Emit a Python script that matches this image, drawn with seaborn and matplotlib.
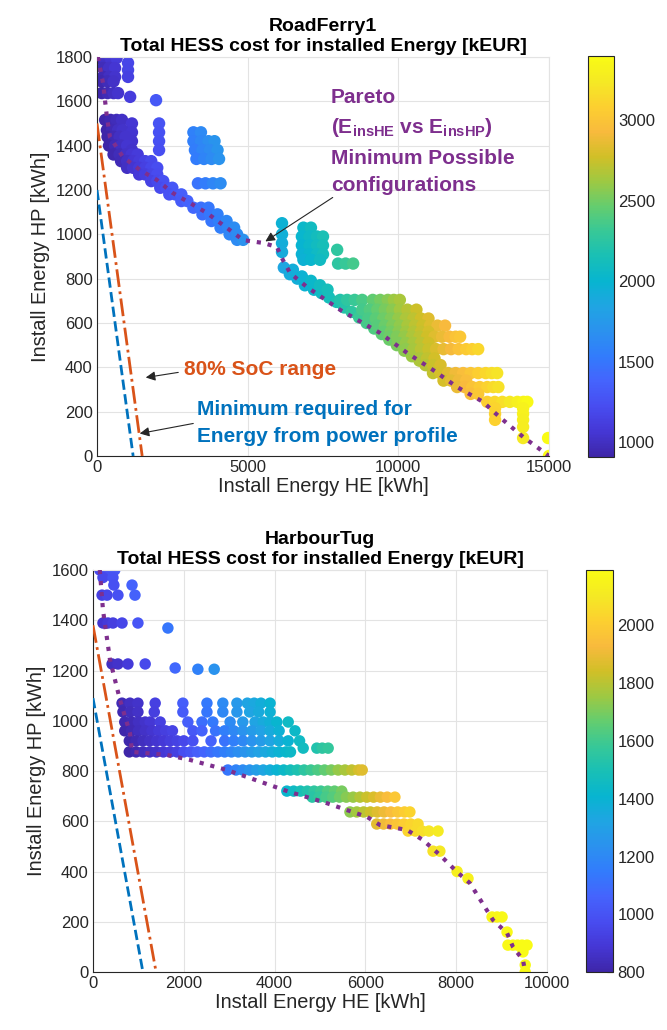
import matplotlib
matplotlib.use("Agg")
import matplotlib.pyplot as plt
import seaborn as sns
import pandas as pd
from matplotlib.colors import LinearSegmentedColormap, Normalize
from matplotlib.cm import ScalarMappable

# ---------------- RoadFerry1 data ----------------
rf_row_hp = [1795, 1773, 1750, 1741, 1710, 1690, 1637, 1620, 1605, 1516, 1500, 1470, 1460,
             1440, 1420, 1400, 1380, 1360, 1330, 1300, 1270, 1240, 1210, 1180, 1150, 1120,
             1090, 1060, 1030, 1000, 975,
             1460, 1420, 1380, 1340, 1230,
             1050, 1000, 960, 920,
             1030, 990, 950, 910, 885, 930, 868,
             850, 820, 800, 770, 750, 735, 715, 695, 670, 650, 625, 600, 575, 550, 525, 500,
             475, 450, 430, 410, 390, 840, 810, 790, 770, 750,
             704, 660, 620, 588, 560, 538, 510, 482, 440, 410, 374, 340, 311, 280, 244,
             215, 190, 163, 131, 81, 0]
rf_row_he = [[30, 250, 450, 650], [1030], [200, 400, 600], [1030], [200, 400, 600, 1030],
             [150, 350, 550], [160, 350, 550, 700], [1100], [1960], [270, 450, 650, 830],
             [1160, 2060], [330, 500, 700, 850], [1160, 2060], [350, 550, 750, 950],
             [1160, 2060], [400, 600, 800, 1000], [1160, 2060], [550, 750, 950, 1150, 1350],
             [800, 1000, 1200, 1400, 1600, 1800], [1000, 1200, 1400, 1600, 1800, 2000],
             [1400, 1600, 1800, 2000], [1800, 2000, 2200], [2100, 2300, 2500],
             [2400, 2600, 2800], [2800, 3000], [3200, 3450, 3700], [3500, 3750, 4000],
             [3800, 4050, 4300], [4100, 4350, 4550], [4400, 4650], [4650, 4850],
             [3200, 3450], [3200, 3450, 3700, 3900], [3250, 3500, 3750, 4000],
             [3300, 3550, 3800, 4050], [3350, 3600, 3850, 4100],
             [6140], [6140], [6140], [6140],
             [6850, 7100], [6800, 7050, 7300, 7500], [6800, 7050, 7300, 7500],
             [6800, 7050, 7300, 7500], [6850, 7100, 7400], [7970], [8000, 8250, 8500],
             [6200], [6400], [6650], [6900], [7200], [7450], [7700], [7950], [8200], [8450],
             [8700], [8950], [9200], [9450], [9700], [9950], [10200], [10450], [10700],
             [10950], [11200], [6500], [6800], [7100], [7400], [7650],
             [8070, 8300, 8550, 8800, 9150, 9400, 9650, 9850, 10050],
             [8800, 9050, 9300, 9550, 9800, 10050, 10300, 10600],
             [9000, 9250, 9500, 9750, 10000, 10250, 10500, 10750, 11000],
             [9300, 9550, 9800, 10050, 10300, 10550, 10800, 11050, 11300, 11550],
             [9500, 9750, 10000, 10250, 10500, 10750, 11000],
             [9700, 9950, 10200, 10450, 10700, 10950, 11200, 11450, 11700, 11900, 12050],
             [10000, 10250, 10500, 10750, 11000],
             [10250, 10500, 10750, 11000, 11250, 11500, 11750, 12000, 12250, 12450, 12650],
             [10700, 10950, 11200], [10900, 11150, 11400],
             [11150, 11400, 11650, 11900, 12150, 12400, 12650, 12900, 13100, 13280],
             [11500, 11750, 12000, 12250],
             [11950, 12200, 12450, 12700, 12950, 13150, 13320], [12400, 12650],
             [12950, 13200, 13450, 13700, 13950, 14150, 14280],
             [13210, 14140], [13210, 14140], [13210, 14140], [14140], [14140, 14970], [15000]]
rf_row_cost = [[955, 1005, 1050, 1100], [1170], [970, 1020, 1060], [1160], [950, 1000, 1040, 1140],
               [930, 975, 1020], [920, 960, 1000, 1040], [1110], [1300], [915, 940, 975, 1010],
               [1060, 1260], [915, 950, 995, 1025], [1050, 1250], [910, 950, 995, 1040],
               [1040, 1240], [915, 960, 1000, 1050], [1030, 1230], [930, 970, 1015, 1060, 1100],
               [965, 1010, 1055, 1100, 1145, 1190], [1000, 1045, 1090, 1135, 1180, 1225],
               [1075, 1120, 1165, 1210], [1150, 1195, 1240], [1200, 1245, 1290],
               [1250, 1295, 1340], [1325, 1370], [1400, 1455, 1510], [1450, 1505, 1560],
               [1500, 1555, 1610], [1550, 1605, 1650], [1600, 1655], [1640, 1690],
               [1570, 1630], [1550, 1610, 1660, 1710], [1540, 1600, 1650, 1710],
               [1530, 1590, 1640, 1700], [1480, 1540, 1600, 1650],
               [1960], [1940], [1920], [1900],
               [2040, 2090], [2010, 2060, 2110, 2160], [1990, 2040, 2090, 2140],
               [1970, 2020, 2070, 2120], [1960, 2010, 2080], [2260], [2250, 2300, 2350],
               [1860], [1890], [1930], [1970], [2030], [2080], [2130], [2170], [2220], [2260],
               [2310], [2350], [2390], [2440], [2480], [2520], [2570], [2610], [2660],
               [2700], [2750], [1920], [1970], [2030], [2090], [2130],
               [2210, 2260, 2310, 2370, 2450, 2510, 2560, 2610, 2650],
               [2350, 2400, 2460, 2520, 2570, 2630, 2690, 2760],
               [2370, 2430, 2490, 2540, 2600, 2660, 2710, 2770, 2830],
               [2420, 2480, 2540, 2590, 2650, 2710, 2760, 2820, 2880, 2930],
               [2450, 2510, 2570, 2620, 2680, 2740, 2790],
               [2490, 2540, 2600, 2660, 2710, 2770, 2830, 2880, 2940, 2990, 3020],
               [2540, 2600, 2650, 2710, 2770],
               [2580, 2640, 2700, 2750, 2810, 2870, 2920, 2980, 3040, 3080, 3130],
               [2660, 2720, 2780], [2690, 2750, 2800],
               [2730, 2790, 2840, 2900, 2960, 3010, 3070, 3130, 3170, 3210],
               [2790, 2850, 2900, 2960],
               [2880, 2930, 2990, 3050, 3100, 3150, 3190], [2960, 3020],
               [3070, 3130, 3180, 3240, 3300, 3340, 3370],
               [3110, 3320], [3100, 3310], [3090, 3290], [3280], [3250, 3390], [3398]]
rf_pareto_he = [30, 200, 330, 430, 860, 1430, 1990, 2520, 3090, 3650, 4850, 5510, 5970,
                6170, 6410, 6970, 8070, 9390, 10290, 11150, 11950, 12810, 13210, 13480,
                14140, 15000]
rf_pareto_hp = [1800, 1683, 1529, 1439, 1349, 1290, 1245, 1186, 1141, 1096, 974, 961, 943,
                884, 825, 762, 659, 555, 465, 388, 311, 244, 194, 162, 86, 0]
rf_soc_he, rf_soc_hp = [0, 1500], [1500, 0]
rf_min_he, rf_min_hp = [0, 1200], [1200, 0]
rf_clim = [907, 3398]
rf_xticks = [0, 5000, 10000, 15000]
rf_yticks = [0, 200, 400, 600, 800, 1000, 1200, 1400, 1600, 1800]
rf_cticks = [1000, 1500, 2000, 2500, 3000]

# ---------------- HarbourTug data ----------------
ht_row_hp = [1600, 1570, 1540, 1500, 1389, 1369, 1226, 1210, 1205, 1070, 1035, 995, 960, 920,
             891, 876, 804, 720, 696, 637, 589, 561, 481, 400, 372, 219, 159, 107, 80, 28, 0]
ht_row_he = [[150, 250, 350, 480], [220, 440], [460, 860], [200, 310, 550, 925],
             [220, 330, 440, 640, 990], [1650], [420, 550, 770, 1150], [1810], [2310, 2670],
             [640, 815, 990, 1370, 1980, 2510, 2860, 3170, 3400, 3550, 3700, 3900],
             [660, 815, 990, 1350, 1980, 2510, 2860, 3170, 3450, 3650, 3900],
             [700, 850, 1000, 1150, 1260, 1480, 2090, 2400, 2640, 3020, 3300, 3570, 3750,
              3900, 4050, 4300],
             [700, 850, 1000, 1150, 1300, 1450, 1600, 1750, 2200, 2400, 2700, 2900, 3100,
              3300, 3500, 3700, 3900, 4100, 4450],
             [800, 950, 1100, 1250, 1400, 1550, 1700, 1850, 2000, 2200, 2600, 2900, 3100,
              3300, 3500, 3700, 3900, 4100, 4300, 4550],
             [4630, 4930, 5050, 5180],
             [800, 950, 1100, 1250, 1400, 1550, 1700, 1850, 2000, 2150, 2300, 2450, 2600,
              2750, 2900, 3050, 3200, 3350, 3500, 3650, 3800, 3950, 4100, 4250, 4350],
             [2970, 3150, 3300, 3450, 3600, 3750, 3900, 4050, 4200, 4350, 4500, 4650, 4800,
              4950, 5100, 5250, 5400, 5550, 5700, 5850, 5930],
             [4270, 4420, 4570, 4720, 4870, 5020, 5170, 5320, 5480],
             [4830, 4980, 5130, 5280, 5430, 5580, 5730, 5880, 6030, 6180, 6330, 6480, 6650],
             [5660, 5810, 5960, 6110, 6260, 6410, 6560, 6710, 6860, 6980],
             [6250, 6400, 6550, 6700, 6850, 7000, 7160],
             [6940, 7100, 7250, 7400, 7600], [7490, 7640], [8020], [8260],
             [8790, 8900, 9010], [9120], [9140, 9250, 9350, 9450, 9560], [9470], [9520], [9520]]
ht_row_cost = [[960, 980, 1000, 1020], [960, 1000], [990, 1060], [930, 950, 990, 1050],
               [880, 900, 920, 950, 1010], [1130], [850, 870, 900, 960], [1080], [1170, 1240],
               [830, 850, 870, 930, 1040, 1140, 1210, 1270, 1320, 1340, 1370, 1400],
               [820, 840, 860, 920, 1030, 1130, 1200, 1260, 1320, 1350, 1390],
               [820, 830, 850, 870, 890, 930, 1040, 1100, 1140, 1210, 1270, 1320, 1350,
                1380, 1410, 1450],
               [810, 825, 845, 860, 880, 900, 920, 940, 1020, 1060, 1120, 1160, 1200,
                1240, 1280, 1310, 1350, 1390, 1440],
               [810, 825, 845, 860, 880, 895, 915, 935, 955, 990, 1060, 1120, 1160,
                1200, 1240, 1280, 1320, 1360, 1400, 1450],
               [1460, 1520, 1550, 1570],
               [805, 820, 840, 855, 870, 890, 905, 925, 980, 1010, 1040, 1070, 1100,
                1130, 1160, 1190, 1220, 1250, 1280, 1310, 1340, 1370, 1395, 1420, 1440],
               [1130, 1175, 1210, 1250, 1290, 1325, 1360, 1400, 1440, 1475, 1510, 1550, 1590,
                1625, 1660, 1700, 1740, 1775, 1810, 1850, 1870],
               [1420, 1450, 1490, 1520, 1560, 1590, 1630, 1660, 1700],
               [1540, 1570, 1610, 1640, 1680, 1720, 1750, 1790, 1830, 1860, 1900, 1940, 1980],
               [1730, 1765, 1800, 1835, 1870, 1905, 1940, 1975, 2005, 2030],
               [1880, 1910, 1940, 1970, 2000, 2030, 2050],
               [2030, 2050, 2070, 2090, 2110], [2080, 2100], [2130], [2140],
               [2160, 2165, 2170], [2175], [2175, 2180, 2185, 2190, 2190], [2190], [2190], [2190]]
ht_pareto_he = [150, 220, 375, 595, 815, 860, 1630, 2140, 2950, 4340, 5070, 6040, 6320, 6920,
                7270, 7640, 8020, 8300, 8810, 9120, 9250, 9470, 9520]
ht_pareto_hp = [1600, 1441, 1242, 1083, 951, 876, 864, 844, 804, 716, 677, 617, 585, 565,
                525, 466, 398, 354, 207, 155, 100, 48, 0]
ht_soc_he, ht_soc_hp = [0, 1390], [1380, 0]
ht_min_he, ht_min_hp = [0, 1100], [1090, 0]
ht_clim = [800, 2190]
ht_xticks = [0, 2000, 4000, 6000, 8000, 10000]
ht_yticks = [0, 200, 400, 600, 800, 1000, 1200, 1400, 1600]
ht_cticks = [800, 1000, 1200, 1400, 1600, 1800, 2000]

# ---------------- style ----------------
sns.set_style("white")
plt.rcParams['font.family'] = ['Liberation Sans', 'DejaVu Sans']
plt.rcParams['mathtext.fontset'] = 'custom'
plt.rcParams['mathtext.rm'] = 'Liberation Sans'
plt.rcParams['mathtext.bf'] = 'Liberation Sans:bold'
plt.rcParams['mathtext.it'] = 'Liberation Sans:italic'

PARULA = [(0.2422, 0.1504, 0.6603), (0.2706, 0.2147, 0.8364), (0.2813, 0.3006, 0.9414),
          (0.2699, 0.3892, 0.9906), (0.1963, 0.4847, 0.9892), (0.1687, 0.5703, 0.9359),
          (0.1248, 0.6459, 0.8883), (0.0297, 0.7082, 0.8163), (0.0964, 0.7500, 0.7120),
          (0.2161, 0.7843, 0.5923), (0.3909, 0.8029, 0.4354), (0.6174, 0.7876, 0.2612),
          (0.8203, 0.7498, 0.1535), (0.9728, 0.7298, 0.2394), (0.9892, 0.8136, 0.1885),
          (0.9597, 0.9135, 0.1423), (0.9769, 0.9839, 0.0805)]
cmap = LinearSegmentedColormap.from_list('parula', PARULA, N=256)

BLUE = '#0072BD'
ORANGE = '#D95319'
PURPLE = '#7E2F8E'
DARK = '#262626'
GRID = '#e3e3e3'


def rows_to_frame(hp_levels, he_rows, cost_rows):
    he, hp, cost = [], [], []
    for h, xs, cs in zip(hp_levels, he_rows, cost_rows):
        he += list(xs)
        hp += [h] * len(xs)
        cost += list(cs)
    return pd.DataFrame({'he': he, 'hp': hp, 'cost': cost})


def draw_panel(ax, cax, df, clim, par_he, par_hp, soc_he, soc_hp, min_he, min_hp,
               xticks, yticks, cticks, title, msize):
    norm = Normalize(clim[0], clim[1])
    ax.set_axisbelow(True)
    ax.grid(True, color=GRID, lw=0.8)
    sns.scatterplot(data=df, x='he', y='hp', hue='cost', palette=cmap, hue_norm=norm,
                    s=msize, linewidth=0, edgecolor='none', legend=False, ax=ax, zorder=2)
    sns.lineplot(x=min_he, y=min_hp, color=BLUE, lw=2, linestyle='--', sort=False,
                 estimator=None, ax=ax, zorder=3)
    sns.lineplot(x=soc_he, y=soc_hp, color=ORANGE, lw=2, linestyle='-.', sort=False,
                 estimator=None, ax=ax, zorder=3)
    sns.lineplot(x=par_he, y=par_hp, color=PURPLE, lw=3, linestyle=':', sort=False,
                 estimator=None, ax=ax, zorder=4)
    ax.set_xlim(xticks[0], xticks[-1])
    ax.set_ylim(yticks[0], yticks[-1])
    ax.set_xticks(xticks)
    ax.set_yticks(yticks)
    ax.tick_params(direction='in', length=4, width=0.8, color=DARK, labelcolor=DARK,
                   labelsize=12, pad=3)
    for side in ['left', 'bottom']:
        ax.spines[side].set_color(DARK)
        ax.spines[side].set_linewidth(0.8)
    for side in ['top', 'right']:
        ax.spines[side].set_color(GRID)
        ax.spines[side].set_linewidth(0.8)
    ax.set_xlabel('Install Energy HE [kWh]', fontsize=14.4, color=DARK, labelpad=1)
    ax.set_ylabel('Install Energy HP [kWh]', fontsize=14.4, color=DARK, labelpad=4)
    ax.set_title(title, fontsize=14, fontweight='bold', color='black', pad=4,
                 linespacing=1.25)
    cb = plt.colorbar(ScalarMappable(norm=norm, cmap=cmap), cax=cax)
    cb.set_ticks(cticks)
    cb.outline.set_edgecolor(DARK)
    cb.outline.set_linewidth(0.8)
    cax.tick_params(direction='in', length=4, width=0.8, color=DARK, labelcolor=DARK,
                    labelsize=12, pad=3)


fig = plt.figure(figsize=(6.67, 10.30), dpi=100)
ax1 = fig.add_axes([0.1454, 0.5573, 0.6777, 0.3874])
cax1 = fig.add_axes([0.8811, 0.5563, 0.0394, 0.3893])
ax2 = fig.add_axes([0.1394, 0.0563, 0.6807, 0.3903])
cax2 = fig.add_axes([0.878, 0.0560, 0.0414, 0.3903])

rf_df = rows_to_frame(rf_row_hp, rf_row_he, rf_row_cost)
ht_df = rows_to_frame(ht_row_hp, ht_row_he, ht_row_cost)

draw_panel(ax1, cax1, rf_df, rf_clim, rf_pareto_he, rf_pareto_hp, rf_soc_he, rf_soc_hp,
           rf_min_he, rf_min_hp, rf_xticks, rf_yticks, rf_cticks,
           'RoadFerry1\nTotal HESS cost for installed Energy [kEUR]', 80)
draw_panel(ax2, cax2, ht_df, ht_clim, ht_pareto_he, ht_pareto_hp, ht_soc_he, ht_soc_hp,
           ht_min_he, ht_min_hp, ht_xticks, ht_yticks, ht_cticks,
           'HarbourTug\nTotal HESS cost for installed Energy [kEUR]', 68)

# annotations (top panel)
afs = 15
ax1.text(7766, 1619, 'Pareto', color=PURPLE, fontsize=afs, fontweight='bold', va='center')
ax1.text(7766, 1480, r'(E$_\mathbf{insHE}$ vs E$_\mathbf{insHP}$)', color=PURPLE,
         fontsize=afs, fontweight='bold', va='center')
ax1.text(7766, 1344, 'Minimum Possible', color=PURPLE, fontsize=afs, fontweight='bold',
         va='center')
ax1.text(7766, 1218, 'configurations', color=PURPLE, fontsize=afs, fontweight='bold',
         va='center')
ax1.annotate('', xy=(5510, 961), xytext=(7900, 1173),
             arrowprops=dict(arrowstyle='-|>', color=DARK, lw=0.8, mutation_scale=14),
             zorder=6)
ax1.text(2888, 388, '80% SoC range', color=ORANGE, fontsize=afs, fontweight='bold',
         va='center')
ax1.annotate('', xy=(1527, 352), xytext=(2788, 379),
             arrowprops=dict(arrowstyle='-|>', color=DARK, lw=0.8, mutation_scale=14),
             zorder=6)
ax1.text(3319, 208, 'Minimum required for', color=BLUE, fontsize=afs, fontweight='bold',
         va='center')
ax1.text(3319, 86, 'Energy from power profile', color=BLUE, fontsize=afs, fontweight='bold',
         va='center')
ax1.annotate('', xy=(1328, 99), xytext=(3286, 149),
             arrowprops=dict(arrowstyle='-|>', color=DARK, lw=0.8, mutation_scale=14),
             zorder=6)

fig.savefig('out.png', dpi=100)
